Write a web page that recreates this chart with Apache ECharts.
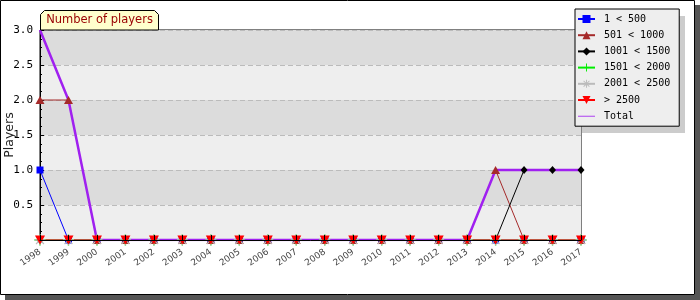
<!DOCTYPE html>
<html>
<head>
<meta charset="utf-8">
<script src="https://cdn.jsdelivr.net/npm/echarts@6/dist/echarts.min.js"></script>
<style>html,body{margin:0;padding:0;background:#fff;}#c{width:700px;height:300px;}</style>
</head>
<body>
<div id="c"></div>
<script>
const years = ['1998','1999','2000','2001','2002','2003','2004','2005','2006','2007','2008','2009','2010','2011','2012','2013','2014','2015','2016','2017'];
const s1to500 =    [1,0,0,0,0,0,0,0,0,0,0,0,0,0,0,0,0,0,0,0];
const s501to1000 = [2,2,0,0,0,0,0,0,0,0,0,0,0,0,0,0,1,0,0,0];
const s1001to1500 =[0,0,0,0,0,0,0,0,0,0,0,0,0,0,0,0,0,1,1,1];
const s1501to2000 =[0,0,0,0,0,0,0,0,0,0,0,0,0,0,0,0,0,0,0,0];
const s2001to2500 =[0,0,0,0,0,0,0,0,0,0,0,0,0,0,0,0,0,0,0,0];
const sOver2500 =  [0,0,0,0,0,0,0,0,0,0,0,0,0,0,0,0,0,0,0,0];
const sTotal =     [3,2,0,0,0,0,0,0,0,0,0,0,0,0,0,0,1,1,1,1];
const seriesNames = ['1 < 500','501 < 1000','1001 < 1500','1501 < 2000','2001 < 2500','> 2500','Total'];

const plusPath = 'path://M4.4,0h1.2v4.4h4.4v1.2h-4.4v4.4h-1.2v-4.4h-4.4v-1.2h4.4z';
const starPath = 'path://M4.4,0h1.2v3.6l2.6,-2.6l0.8,0.8l-2.6,2.6h3.6v1.2h-3.6l2.6,2.6l-0.8,0.8l-2.6,-2.6v3.6h-1.2v-3.6l-2.6,2.6l-0.8,-0.8l2.6,-2.6h-3.6v-1.2h3.6l-2.6,-2.6l0.8,-0.8l2.6,2.6z';

const chart = echarts.init(document.getElementById('c'), null, {renderer:'canvas'});
function mk(name, data, color, symbol, size, extra) {
  return Object.assign({
    name: name, type: 'line', data: data, symbol: symbol, symbolSize: size,
    showSymbol: symbol !== 'none', animation: false,
    lineStyle: {color: color, width: 1}, itemStyle: {color: color},
    emphasis: {disabled: true}
  }, extra || {});
}
const legendData = seriesNames.map(function (n) {
  return n === 'Total' ? {name: n, icon: 'path://M0,0h40v2h-40z'} : {name: n};
});
chart.setOption({
  animation: false,
  grid: {left: 40, top: 30, right: 119, bottom: 60, containLabel: false, outerBoundsMode: 'none',
    show: true, borderColor: '#000', borderWidth: 1, backgroundColor: 'transparent'},
  legend: {
    orient: 'vertical', left: 575, top: 9,
    padding: [5, 9, 5, 2], itemGap: 6.2, itemWidth: 17, itemHeight: 10,
    backgroundColor: '#eeeeee', borderColor: '#000', borderWidth: 1,
    textStyle: {fontFamily: 'DejaVu Sans Mono', fontSize: 10, color: '#000', padding: [0,0,0,4]},
    data: legendData, selectedMode: false
  },
  xAxis: {
    type: 'category', data: years, boundaryGap: false, z: 10,
    axisLine: {lineStyle: {color: '#000', width: 1}},
    axisTick: {show: true, inside: true, length: 5, lineStyle: {color: '#000'}},
    axisLabel: {rotate: 35, fontSize: 9, color: '#444', fontFamily: 'DejaVu Sans', margin: 11, interval: 0, hideOverlap: false},
    splitLine: {show: false}
  },
  yAxis: {
    type: 'value', min: 0, max: 3, interval: 0.5,
    name: 'Players', nameLocation: 'middle', nameGap: 24, nameMoveOverlap: false,
    nameTextStyle: {fontFamily: 'DejaVu Sans', fontSize: 12.5, color: '#222'},
    axisLine: {show: true, lineStyle: {color: '#000'}},
    axisTick: {show: true, inside: true, length: 4, lineStyle: {color: '#000'}},
    minorTick: {show: true, splitNumber: 4, length: 2, lineStyle: {color: '#000'}},
    axisLabel: {fontFamily: 'DejaVu Sans Mono', fontSize: 11, color: '#000', margin: 7,
      formatter: function (v) { return v === 0 ? '' : v.toFixed(1); }},
    splitLine: {show: true, lineStyle: {color: '#bbbbbb', type: [5, 3]}},
    splitArea: {show: true, areaStyle: {color: ['#eeeeee', '#dcdcdc']}}
  },
  graphic: [
    {type: 'rect', z: -10, shape: {x: 5, y: 295, width: 695, height: 5}, style: {fill: '#555555'}, silent: true},
    {type: 'rect', z: -10, shape: {x: 695, y: 5, width: 5, height: 295}, style: {fill: '#555555'}, silent: true},
    {type: 'rect', z: -9, shape: {x: 0.5, y: 0.5, width: 694, height: 294}, style: {fill: 'none', stroke: '#000', lineWidth: 1}, silent: true},
    {type: 'rect', z: 3, shape: {x: 582, y: 16, width: 103, height: 117}, style: {fill: '#cccccc'}, silent: true},
    {type: 'polygon', z: 20, shape: {points: [[40.5,30],[40.5,14.5],[44.5,10.5],[154.5,10.5],[158.5,14.5],[158.5,30]]},
      style: {fill: '#ffffcc', stroke: '#000', lineWidth: 1}, silent: true},
    {type: 'text', z: 21, x: 99.5, y: 20.5, style: {text: 'Number of players', fill: '#990000', font: '11.5px "DejaVu Sans"', align: 'center', verticalAlign: 'middle'}, silent: true}
  ],
  series: [
    mk(seriesNames[0], s1to500, '#0000ff', 'rect', 7),
    mk(seriesNames[1], s501to1000, '#a52a2a', 'triangle', [9, 8]),
    mk(seriesNames[2], s1001to1500, '#000000', 'diamond', [7, 8]),
    mk(seriesNames[3], s1501to2000, '#00ee00', plusPath, 11),
    mk(seriesNames[4], s2001to2500, '#bbbbbb', starPath, 11),
    mk(seriesNames[5], sOver2500, '#ff0000', 'triangle', [10, 9], {symbolRotate: 180}),
    mk(seriesNames[6], sTotal, '#a020f0', 'none', 0, {lineStyle: {color: '#a020f0', width: 2.5}, itemStyle: {color: '#a020f0'}})
  ]
});
</script>
</body>
</html>
